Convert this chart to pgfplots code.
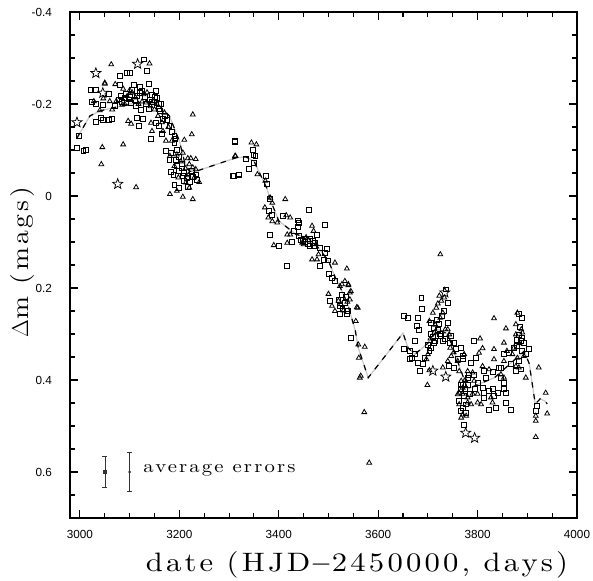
\documentclass[border=0pt]{standalone}
\usepackage{pgfplots}
\pgfplotsset{compat=1.18}
\usepackage{pgfplotstable}
\usepackage{fontspec}
\newfontfamily\ticksfont{Liberation Sans}
\newfontfamily\lmlab{lmroman10-regular.otf}[LetterSpace=12, FakeStretch=1.15]
\newcommand\labfont[1]{\lmlab\fontsize{#1}{#1}\selectfont}

\pgfdeclareplotmark{ostar}{%
  \pgfpathmoveto{\pgfpointpolar{90}{\pgfplotmarksize}}%
  \pgfpathlineto{\pgfpointpolar{126}{0.42\pgfplotmarksize}}%
  \pgfpathlineto{\pgfpointpolar{162}{\pgfplotmarksize}}%
  \pgfpathlineto{\pgfpointpolar{198}{0.42\pgfplotmarksize}}%
  \pgfpathlineto{\pgfpointpolar{234}{\pgfplotmarksize}}%
  \pgfpathlineto{\pgfpointpolar{270}{0.42\pgfplotmarksize}}%
  \pgfpathlineto{\pgfpointpolar{306}{\pgfplotmarksize}}%
  \pgfpathlineto{\pgfpointpolar{342}{0.42\pgfplotmarksize}}%
  \pgfpathlineto{\pgfpointpolar{18}{\pgfplotmarksize}}%
  \pgfpathlineto{\pgfpointpolar{54}{0.42\pgfplotmarksize}}%
  \pgfpathclose\pgfusepathqstroke}

\pgfplotstableread{
x y
2994 -0.126
3020 -0.174
3040 -0.185
3060 -0.19
3100 -0.2
3140 -0.205
3160 -0.196
3180 -0.174
3200 -0.12
3210 -0.076
3220 -0.054
3234 -0.054
3314 -0.083
3334 -0.085
3350 -0.076
3376 -0.017
3384 0.011
3400 0.054
3434 0.083
3460 0.091
3480 0.113
3500 0.141
3514 0.178
3530 0.213
3540 0.240
3554 0.293
3560 0.33
3580 0.395
3650 0.298
3660 0.33
3674 0.344
3700 0.32
3720 0.29
3740 0.30
3760 0.36
3780 0.42
3800 0.41
3834 0.395
3860 0.37
3894 0.337
3904 0.365
3916 0.452
3926 0.441
3936 0.446
3940 0.452
}\trendtab

\pgfplotstableread{
x y
2993 -0.104
3007 -0.098
3012 -0.100
2998 -0.130
3021 -0.230
3032 -0.230
3025 -0.204
3033 -0.200
3047 -0.199
3043 -0.170
3032 -0.161
3047 -0.166
3059 -0.165
3065 -0.168
3059 -0.221
3080 -0.241
3080 -0.262
3095 -0.267
3101 -0.267
3129 -0.297
3135 -0.272
3138 -0.243
3108 -0.241
3120 -0.237
3079 -0.210
3090 -0.214
3103 -0.203
3123 -0.188
3115 -0.170
3127 -0.168
3119 -0.152
3140 -0.210
3152 -0.228
3155 -0.214
3159 -0.201
3160 -0.185
3167 -0.167
3153 -0.159
3159 -0.152
3143 -0.125
3180 -0.152
3165 -0.135
3190 -0.130
3192 -0.125
3173 -0.098
3183 -0.094
3193 -0.078
3180 -0.078
3200 -0.054
3183 -0.053
3190 -0.025
3200 -0.018
3210 -0.032
3217 -0.019
3207 -0.043
3228 -0.041
3233 -0.047
3120 -0.225
3083 -0.217
3100 -0.215
3110 -0.208
3130 -0.215
3145 -0.220
3112 -0.195
3070 -0.195
3195 -0.065
3188 -0.045
3205 -0.060
3085 -0.205
3092 -0.222
3098 -0.210
3105 -0.230
3115 -0.218
3125 -0.228
3132 -0.200
3138 -0.190
3145 -0.205
3150 -0.215
3158 -0.190
3163 -0.200
3170 -0.175
3175 -0.165
3185 -0.140
3190 -0.115
3196 -0.100
3200 -0.085
3205 -0.070
3210 -0.050
3215 -0.040
3222 -0.030
3235 -0.035
3225 -0.055
3312 -0.120
3333 -0.080
3308 -0.043
3320 -0.046
3312 -0.118
3310 -0.043
3319 -0.047
3348 -0.101
3353 -0.087
3349 -0.090
3340 -0.058
3350 -0.072
3375 -0.043
3377 -0.027
3383 0.007
3380 0.033
3387 0.042
3408 0.044
3439 0.053
3441 0.058
3460 0.031
3493 0.062
3383 0.084
3400 0.109
3430 0.076
3440 0.087
3439 0.068
3453 0.094
3463 0.094
3477 0.084
3473 0.102
3470 0.109
3483 0.113
3497 0.116
3493 0.123
3490 0.138
3483 0.152
3499 0.140
3417 0.152
3500 0.170
3513 0.185
3507 0.178
3503 0.228
3523 0.239
3527 0.214
3537 0.257
3523 0.257
3533 0.232
3427 0.100
3448 0.098
3458 0.105
3520 0.225
3445 0.095
3452 0.100
3462 0.108
3468 0.098
3528 0.245
3535 0.220
3540 0.250
3545 0.308
3652 0.261
3660 0.266
3687 0.222
3688 0.246
3680 0.266
3677 0.283
3681 0.292
3673 0.314
3652 0.333
3663 0.337
3673 0.344
3668 0.352
3680 0.362
3690 0.366
3693 0.352
3703 0.337
3700 0.323
3707 0.330
3710 0.307
3715 0.315
3720 0.292
3727 0.304
3730 0.315
3737 0.203
3740 0.232
3733 0.250
3740 0.275
3707 0.275
3713 0.286
3723 0.279
3747 0.304
3752 0.319
3757 0.333
3767 0.330
3770 0.355
3743 0.370
3753 0.373
3767 0.410
3777 0.453
3767 0.468
3773 0.497
3663 0.355
3683 0.381
3718 0.270
3725 0.300
3735 0.310
3745 0.320
3705 0.300
3712 0.320
3728 0.260
3767 0.330
3770 0.348
3760 0.355
3793 0.314
3797 0.352
3787 0.362
3792 0.388
3783 0.388
3780 0.410
3770 0.410
3767 0.420
3773 0.435
3770 0.460
3777 0.471
3775 0.420
3785 0.430
3795 0.420
3780 0.395
3800 0.406
3810 0.417
3813 0.428
3823 0.424
3830 0.420
3833 0.435
3840 0.428
3817 0.395
3813 0.381
3830 0.382
3843 0.373
3847 0.395
3853 0.406
3837 0.460
3823 0.464
3857 0.449
3853 0.420
3857 0.428
3853 0.344
3847 0.373
3863 0.341
3867 0.366
3877 0.381
3887 0.377
3883 0.359
3890 0.337
3903 0.333
3897 0.343
3890 0.265
3883 0.257
3887 0.315
3880 0.312
3883 0.301
3890 0.308
3885 0.285
3893 0.320
3920 0.457
3917 0.468
3813 0.438
3763 0.446
3880 0.326
3873 0.330
3867 0.465
}\sqtab

\pgfplotstableread{
x y
3063 -0.286
3140 -0.288
3050 -0.244
3071 -0.243
3087 -0.233
3095 -0.217
3073 -0.206
3060 -0.206
3047 -0.212
3028 -0.206
3040 -0.186
3065 -0.188
3097 -0.163
3103 -0.157
3112 -0.214
3128 -0.221
3133 -0.203
3147 -0.206
3150 -0.188
3157 -0.174
3170 -0.181
3143 -0.159
3145 -0.141
3167 -0.141
3173 -0.120
3227 -0.177
3225 -0.134
3210 -0.122
3045 -0.106
3087 -0.112
3043 -0.069
3113 -0.019
3181 -0.087
3190 -0.065
3207 -0.094
3217 -0.082
3223 -0.082
3233 -0.080
3220 -0.069
3227 -0.062
3233 -0.058
3213 -0.029
3220 -0.018
3181 -0.004
3207 0.002
3227 0.007
3195 -0.011
3313 -0.087
3050 -0.246
3105 -0.225
3085 -0.198
3125 -0.205
3198 -0.040
3090 -0.200
3100 -0.230
3118 -0.200
3135 -0.225
3142 -0.195
3155 -0.200
3165 -0.160
3178 -0.150
3185 -0.120
3195 -0.090
3203 -0.075
3212 -0.060
3218 -0.045
3230 -0.040
3240 -0.030
3345 -0.116
3355 -0.112
3312 -0.087
3357 -0.047
3373 -0.033
3383 0.004
3387 0.015
3413 0.007
3372 0.025
3379 0.047
3387 0.055
3397 0.058
3415 0.042
3423 0.047
3417 0.084
3423 0.084
3390 0.107
3417 0.102
3447 0.102
3467 0.065
3470 0.076
3480 0.127
3467 0.138
3477 0.138
3513 0.145
3537 0.158
3527 0.192
3533 0.185
3540 0.194
3523 0.196
3543 0.210
3500 0.213
3513 0.250
3557 0.242
3507 0.239
3530 0.249
3520 0.228
3455 0.090
3450 0.105
3460 0.097
3475 0.105
3525 0.235
3538 0.230
3540 0.192
3545 0.207
3543 0.225
3559 0.243
3555 0.272
3560 0.323
3573 0.328
3561 0.352
3565 0.391
3563 0.395
3572 0.470
3582 0.580
3725 0.127
3723 0.217
3720 0.234
3727 0.228
3733 0.221
3730 0.254
3717 0.243
3710 0.254
3703 0.272
3713 0.297
3740 0.290
3743 0.301
3700 0.344
3697 0.355
3703 0.379
3699 0.411
3730 0.373
3740 0.359
3747 0.348
3760 0.359
3763 0.381
3760 0.431
3770 0.417
3763 0.453
3770 0.475
3767 0.482
3777 0.478
3715 0.280
3725 0.265
3735 0.290
3745 0.330
3752 0.340
3705 0.310
3770 0.430
3790 0.430
3800 0.430
3775 0.400
3833 0.266
3805 0.310
3810 0.331
3803 0.341
3773 0.344
3833 0.333
3833 0.355
3853 0.319
3859 0.337
3853 0.359
3810 0.370
3823 0.377
3847 0.388
3853 0.395
3790 0.384
3780 0.381
3793 0.402
3767 0.402
3763 0.428
3780 0.438
3787 0.453
3800 0.449
3827 0.438
3830 0.449
3807 0.453
3780 0.449
3880 0.254
3877 0.279
3890 0.297
3877 0.301
3873 0.330
3870 0.344
3880 0.352
3893 0.348
3877 0.370
3883 0.373
3897 0.395
3888 0.290
3884 0.320
3923 0.373
3937 0.428
3940 0.473
3917 0.478
3917 0.489
3917 0.524
3857 0.288
}\tritab

\pgfplotstableread{
x y
2994 -0.160
3032 -0.267
3046 -0.224
3116 -0.287
3076 -0.026
3710 0.380
3736 0.393
3734 0.210
3776 0.515
3794 0.526
}\startab

\begin{document}
\begin{tikzpicture}
\begin{axis}[
  scale only axis,
  width=380.25pt, height=379.5pt,
  xmin=2980, xmax=4000,
  ymin=-0.4, ymax=0.7,
  y dir=reverse,
  xtick={3000,3200,...,4000},
  minor xtick={3050,3100,3150,3250,3300,3350,3450,3500,3550,3650,3700,3750,3850,3900,3950},
  ytick={-0.4,-0.2,0,0.2,0.4,0.6},
  yticklabels={-0.4,-0.2,0,0.2,0.4,0.6},
  minor ytick={-0.35,-0.3,-0.25,-0.15,-0.1,-0.05,0.05,0.1,0.15,0.25,0.3,0.35,0.45,0.5,0.55,0.65},
  /pgf/number format/1000 sep={},
  /pgf/number format/assume math mode=true,
  tick align=inside,
  major tick length=6pt,
  minor tick length=4pt,
  every tick/.style={black, line width=0.8pt},
  axis line style={line width=1pt},
  ticklabel style={font=\ticksfont\fontsize{8.8}{10}\selectfont},
  yticklabel style={xshift=-10pt},
  xticklabel style={yshift=-6pt},
  xlabel={\labfont{20}date (HJD$-$2450000, days)},
  ylabel={\labfont{18}$\Delta$m (mags)},
  xlabel style={at={(axis description cs:0.566,-0.1067)}, anchor=base},
  ylabel style={at={(axis description cs:-0.0828,0.506)}, anchor=base, rotate=0},
  clip=false,
]
\addplot[gray!45, line width=0.9pt] table {\trendtab};
\addplot[black, line width=0.9pt, dash pattern=on 4pt off 5pt] table {\trendtab};
\addplot[only marks, mark=square, mark size=1.85pt, mark options={black, line width=0.6pt}] table {\sqtab};
\addplot[only marks, mark=triangle, mark size=2.1pt, mark options={black, line width=0.6pt}] table {\tritab};
\addplot[only marks, mark=ostar, mark size=4pt, mark options={black, line width=0.55pt}] table {\startab};
\addplot[black!80, line width=0.75pt, mark=square*, mark size=1pt,
  error bars/.cd, y dir=both, y explicit, error mark options={rotate=90, black!80, line width=0.75pt, mark size=2pt}]
  coordinates {(3050,0.6) +- (0,0.033)};
\addplot[black!80, line width=0.75pt, mark=*, mark size=0.6pt,
  error bars/.cd, y dir=both, y explicit, error mark options={rotate=90, black!80, line width=0.75pt, mark size=2pt}]
  coordinates {(3100,0.6) +- (0,0.043)};
\node[anchor=base west, inner sep=0pt, font=\labfont{13.5}] at (axis cs:3127,0.602) {average errors};
\coordinate (ll) at (rel axis cs:0,0);
\coordinate (ur) at (rel axis cs:1,1);
\end{axis}
\pgfresetboundingbox
\path[use as bounding box] ([xshift=-52.5pt,yshift=-47.25pt]ll) rectangle ([xshift=12pt,yshift=9pt]ur);
\end{tikzpicture}
\end{document}
